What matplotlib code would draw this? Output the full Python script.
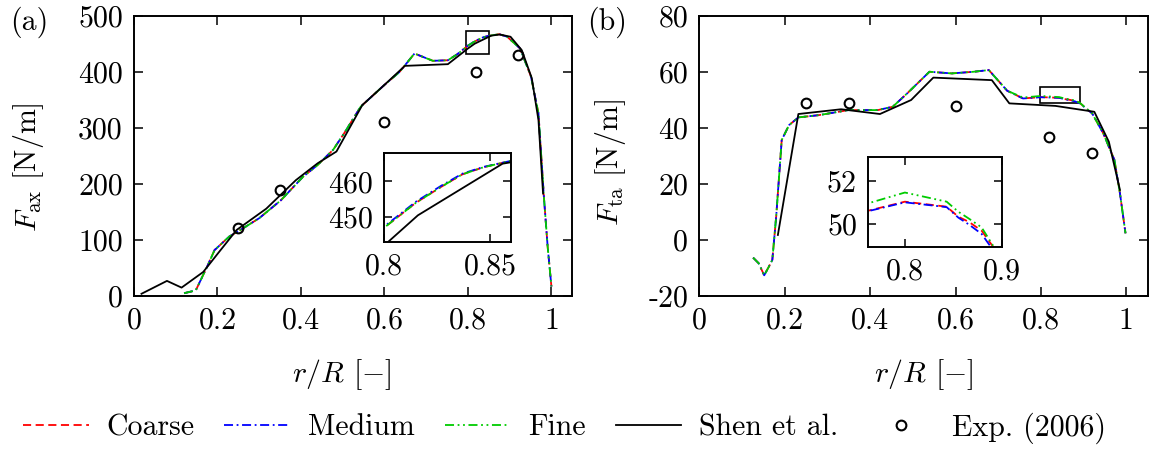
import numpy as np
import matplotlib
matplotlib.use('Agg')
import matplotlib.pyplot as plt
from matplotlib.patches import Rectangle

plt.rcParams['font.family'] = ['cmr10', 'DejaVu Serif']
plt.rcParams['mathtext.fontset'] = 'cm'
plt.rcParams['axes.unicode_minus'] = False
plt.rcParams['font.size'] = 21.5

# ---- data (a) axial force ----
r_cfd_a = [0.12, 0.148, 0.175, 0.193, 0.228, 0.255, 0.30, 0.352, 0.405, 0.44, 0.477, 0.503,
           0.543, 0.60, 0.636, 0.672, 0.716, 0.752, 0.775, 0.80, 0.815, 0.827, 0.837, 0.847,
           0.86, 0.875, 0.894, 0.925, 0.951, 0.969, 0.982, 0.991, 1.0]
fax_coarse = [5, 10, 52, 82, 106, 118, 139, 171, 213, 234, 261, 290, 338, 377, 400, 433, 420, 421,
              432, 447, 454, 458.5, 462, 464, 465.8, 467.5, 463, 442, 392, 326, 177, 88, 17]
fax_medium = [5, 10, 52, 82, 106, 118, 139, 171, 213, 234, 261, 290, 338, 377, 400, 433, 420, 421,
              432, 447.3, 454.3, 458.8, 462.2, 464.1, 465.8, 467.5, 463, 442, 392, 326, 177, 88, 17]
fax_fine = [5, 10, 52, 82, 106, 118, 139, 171, 213, 234, 261, 290, 338, 377, 400, 433, 420, 421,
            432, 447, 454, 458.5, 462, 464, 465.8, 467.5, 463, 442, 392, 326, 177, 88, 17]
r_shen_a = [0.018, 0.079, 0.114, 0.166, 0.201, 0.246, 0.317, 0.388, 0.44, 0.485, 0.547, 0.60,
            0.649, 0.752, 0.80, 0.816, 0.856, 0.876, 0.902, 0.929, 0.953, 0.969, 0.98]
fax_shen = [4, 27, 15, 43, 76, 118, 156, 207, 237, 258, 341, 377, 411, 414, 442, 450.5, 465,
            467, 463, 439, 389, 314, 183]
r_exp = [0.25, 0.35, 0.60, 0.82, 0.92]
fax_exp = [122, 189, 311, 400, 430]

# ---- data (b) tangential force ----
r_cfd_b = [0.126, 0.139, 0.152, 0.163, 0.171, 0.18, 0.193, 0.21, 0.232, 0.28, 0.349, 0.418, 0.453,
           0.487, 0.539, 0.591, 0.643, 0.678, 0.721, 0.758, 0.80, 0.843, 0.855, 0.866, 0.879,
           0.891, 0.92, 0.946, 0.972, 0.985, 0.998]
fta_coarse = [-6.3, -8.3, -12.6, -9.5, -7.1, 8.3, 35.7, 41, 43.8, 44.6, 46.4, 46.4, 47.6, 52.4,
              60.1, 59.5, 60.1, 60.7, 53.3, 50.57, 51.03, 50.8, 50.34, 50.1, 49.7, 48.95, 45.2,
              38.1, 28.6, 16.7, 2.4]
fta_medium = [-6.3, -8.3, -12.6, -9.5, -7.1, 8.3, 35.7, 41, 43.8, 44.6, 46.4, 46.4, 47.6, 52.4,
              60.1, 59.5, 60.1, 60.7, 53.3, 50.55, 51.0, 50.78, 50.3, 49.98, 49.55, 48.8, 45.2,
              38.1, 28.6, 16.7, 2.4]
fta_fine = [-6.3, -8.3, -12.6, -9.5, -7.1, 8.3, 35.7, 41, 43.8, 44.6, 46.4, 46.4, 47.6, 52.4,
            60.1, 59.5, 60.1, 60.7, 53.3, 50.9, 51.45, 51.03, 50.57, 50.25, 49.85, 49.0, 45.2,
            38.1, 28.6, 16.7, 2.4]
r_shen_b = [0.184, 0.232, 0.332, 0.423, 0.496, 0.548, 0.685, 0.726, 0.834, 0.925, 0.959, 0.985]
fta_shen = [1.8, 45, 46.7, 45, 50, 58, 57.1, 48.8, 47.9, 45.8, 35.1, 17.9]
fta_exp = [49, 48.8, 48, 36.9, 31]

x_ticks = [0, 0.2, 0.4, 0.6, 0.8, 1.0]
x_ticklabels = ['0', '0.2', '0.4', '0.6', '0.8', '1']
ya_ticks = [0, 100, 200, 300, 400, 500]
yb_ticks = [-20, 0, 20, 40, 60, 80]

styles = [
    ('Coarse', 'red', (0, (4.5, 2.5))),
    ('Medium', 'blue', (0, (5, 2, 1, 2))),
    ('Fine', '#00cc00', (0, (5, 2, 1, 2, 1, 2))),
]
lw = 1.3


def style_ax(ax, ticklen=6.5):
    ax.tick_params(direction='in', top=True, right=True, length=ticklen, width=1.1, pad=8)
    for s in ax.spines.values():
        s.set_linewidth(1.4)


def draw(ax, r, cfd, rs, shen, rexp, exp, ms=7):
    for (name, c, ls), y in zip(styles, cfd):
        ax.plot(r, y, color=c, linestyle=ls, lw=lw, label=name)
    ax.plot(rs, shen, color='black', lw=lw, label='Shen et al.')
    ax.plot(rexp, exp, 'o', mfc='none', mec='black', mew=1.5, ms=ms, label='Exp. (2006)')


fig = plt.figure(figsize=(11.62, 4.5), dpi=100)

# panel (a)
ax1 = fig.add_axes([0.1153, 0.3422, 0.3772, 0.6222])
draw(ax1, r_cfd_a, [fax_coarse, fax_medium, fax_fine], r_shen_a, fax_shen, r_exp, fax_exp)
ax1.set_xlim(0, 1.05)
ax1.set_ylim(0, 500)
ax1.set_xticks(x_ticks, x_ticklabels)
ax1.set_yticks(ya_ticks, [str(v) for v in ya_ticks])
style_ax(ax1)
ax1.add_patch(Rectangle((0.796, 433), 0.055, 41, fill=False, ec='black', lw=1.2))
ax1.set_ylabel(r'$F_{\mathrm{ax}}$ [N/m]')
ax1.yaxis.set_label_coords(-0.2, 0.46)
ax1.set_xlabel(r'$r/R$ [$-$]')
ax1.xaxis.set_label_coords(0.473, -0.22)

ins1 = fig.add_axes([0.3305, 0.4622, 0.1093, 0.1978])
draw(ins1, r_cfd_a, [fax_coarse, fax_medium, fax_fine], r_shen_a, fax_shen, r_exp, fax_exp)
ins1.set_xlim(0.8, 0.86)
ins1.set_ylim(443, 468)
ins1.set_xticks([0.8, 0.85], ['0.8', '0.85'])
ins1.set_yticks([450, 460], ['450', '460'])
style_ax(ins1, 6)

# panel (b)
ax2 = fig.add_axes([0.6018, 0.3422, 0.3859, 0.6222])
draw(ax2, r_cfd_b, [fta_coarse, fta_medium, fta_fine], r_shen_b, fta_shen, r_exp, fta_exp)
ax2.set_xlim(0, 1.05)
ax2.set_ylim(-20, 80)
ax2.set_xticks(x_ticks, x_ticklabels)
ax2.set_yticks(yb_ticks, [str(v) for v in yb_ticks])
style_ax(ax2)
ax2.add_patch(Rectangle((0.797, 48.8), 0.094, 5.7, fill=False, ec='black', lw=1.2))
ax2.set_ylabel(r'$F_{\mathrm{ta}}$ [N/m]')
ax2.yaxis.set_label_coords(-0.159, 0.475)
ax2.set_xlabel(r'$r/R$ [$-$]')
ax2.xaxis.set_label_coords(0.5, -0.22)

ins2 = fig.add_axes([0.747, 0.4511, 0.1153, 0.2])
draw(ins2, r_cfd_b, [fta_coarse, fta_medium, fta_fine], r_shen_b, fta_shen, r_exp, fta_exp)
ins2.set_xlim(0.762, 0.9)
ins2.set_ylim(48.95, 53.08)
ins2.set_xticks([0.8, 0.9], ['0.8', '0.9'])
ins2.set_yticks([50, 52], ['50', '52'])
style_ax(ins2, 6)

fig.text(0.009, 0.985, '(a)', va='top', ha='left')
fig.text(0.505, 0.985, '(b)', va='top', ha='left')

handles, labels = ax1.get_legend_handles_labels()
fig.legend(handles, labels, loc='center', bbox_to_anchor=(0.4858, 0.049), ncol=5,
           frameon=False, handlelength=2.2, handletextpad=0.6, columnspacing=1.0,
           borderpad=0, borderaxespad=0)

fig.savefig('out.png', dpi=100)
